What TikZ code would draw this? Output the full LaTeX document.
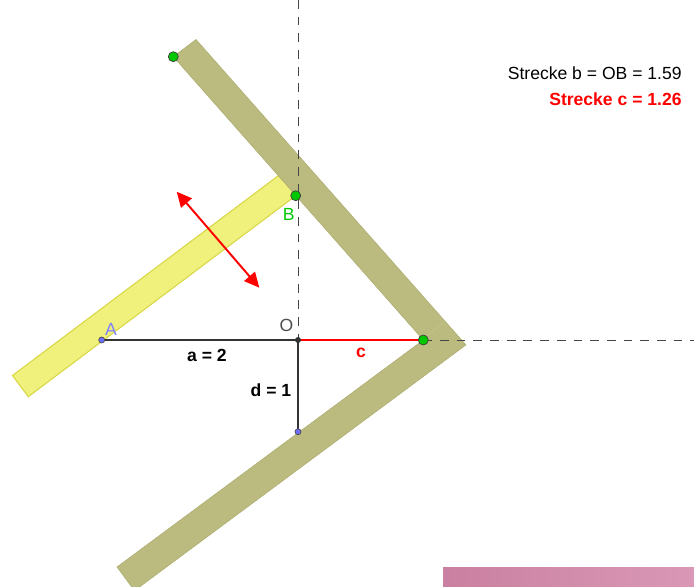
\documentclass[tikz,border=0pt]{standalone}
\usepackage{fontspec}
\setmainfont{Liberation Sans}
\usetikzlibrary{arrows.meta}
\definecolor{sqfill}{RGB}{187,187,127}
\definecolor{sqedge}{RGB}{172,172,112}
\definecolor{rulerfill}{RGB}{240,240,125}
\definecolor{ruleredge}{RGB}{215,215,70}
\definecolor{ptgreen}{RGB}{0,200,0}
\definecolor{ptblue}{RGB}{110,110,255}
\definecolor{labblue}{RGB}{128,128,255}
\definecolor{axisgray}{RGB}{70,70,70}
\tikzset{
	lab/.style={font=\fontsize{10}{12}\selectfont, inner sep=0pt},
	blab/.style={font=\fontsize{10}{12}\selectfont\bfseries, inner sep=0pt},
	gpt/.style={circle, fill=ptgreen, draw=black!75, line width=0.4pt, inner sep=0pt, minimum size=0.2cm},
	bpt/.style={circle, fill=ptblue, draw=black!70, line width=0.4pt, inner sep=0pt, minimum size=0.12cm},
	opt/.style={circle, fill=black!80, inner sep=0pt, minimum size=0.12cm},
	axis/.style={draw=axisgray, line width=0.5pt, dash pattern=on 5pt off 4.5pt},
	seg/.style={draw=black!80, line width=0.6pt}
}

\begin{document}
\begin{tikzpicture}[x=0.02cm, y=-0.02cm, >={Triangle[length=3mm, width=2.8mm]}]
	\useasboundingbox (0,0) rectangle (694,586);
	\coordinate (O) at (298,340);
	\coordinate (A) at (101.7,340);
	\coordinate (D) at (298,431.7);
	\coordinate (C) at (423.3,340);
	\coordinate (B) at (295.7,195.7);
	\coordinate (E) at (173.3,56.7);
	\coordinate (m1) at (176.7,191.7);
	\coordinate (m2) at (259.3,287.7);
	\shade[left color={rgb,255:red,202;green,128;blue,160}, right color={rgb,255:red,218;green,152;blue,182}] (443,567) rectangle (694,586);
	\filldraw[fill=rulerfill, draw=ruleredge, line width=0.6pt] (28.3,396.7) -- (B) -- (279.9,174.5) -- (12.5,375.5) -- cycle;
	\filldraw[fill=sqfill, draw=sqedge, line width=0.3pt] (E) -- (C) -- (117,567) -- (134.5,590.7) -- (466,344.9) -- (196,39.5) -- cycle;
	\draw[sqfill!88!white, line width=0.3pt] (C) -- (444.7,320.8);
	\draw[axis] (298,0) -- (O);
	\draw[axis] (C) -- (694,340);
	\draw[seg] (A) -- (O);
	\draw[seg] (O) -- (D);
	\draw[red, line width=1.1pt] (O) -- (C);
	\draw[<->, red, line width=1.1pt] (m1) -- (m2);
	\node[bpt] (ptA) at (A) {};
	\node[bpt] (ptD) at (D) {};
	\node[opt] (ptO) at (O) {};
	\node[gpt] (ptC) at (C) {};
	\node[gpt] (ptB) at (B) {};
	\node[gpt] (ptE) at (E) {};
	\node[lab, anchor=base, text=labblue] (labA) at (111,335) {A};
	\node[lab, anchor=base, text=ptgreen] (labB) at (288.7,220) {B};
	\node[lab, anchor=base, text=black!70] (labO) at (286.5,331.7) {O};
	\node[blab, anchor=base] (laba) at (207,361.7) {a = 2};
	\node[blab, anchor=base] (labd) at (271,396.7) {d = 1};
	\node[blab, anchor=base, text=red] (labc) at (361,357.3) {c};
	\node[lab, anchor=base east] (txtb) at (682,79.3) {Strecke b = OB = 1.59};
	\node[blab, anchor=base east, text=red] (txtc) at (682,105) {Strecke c = 1.26};
\end{tikzpicture}
\end{document}
